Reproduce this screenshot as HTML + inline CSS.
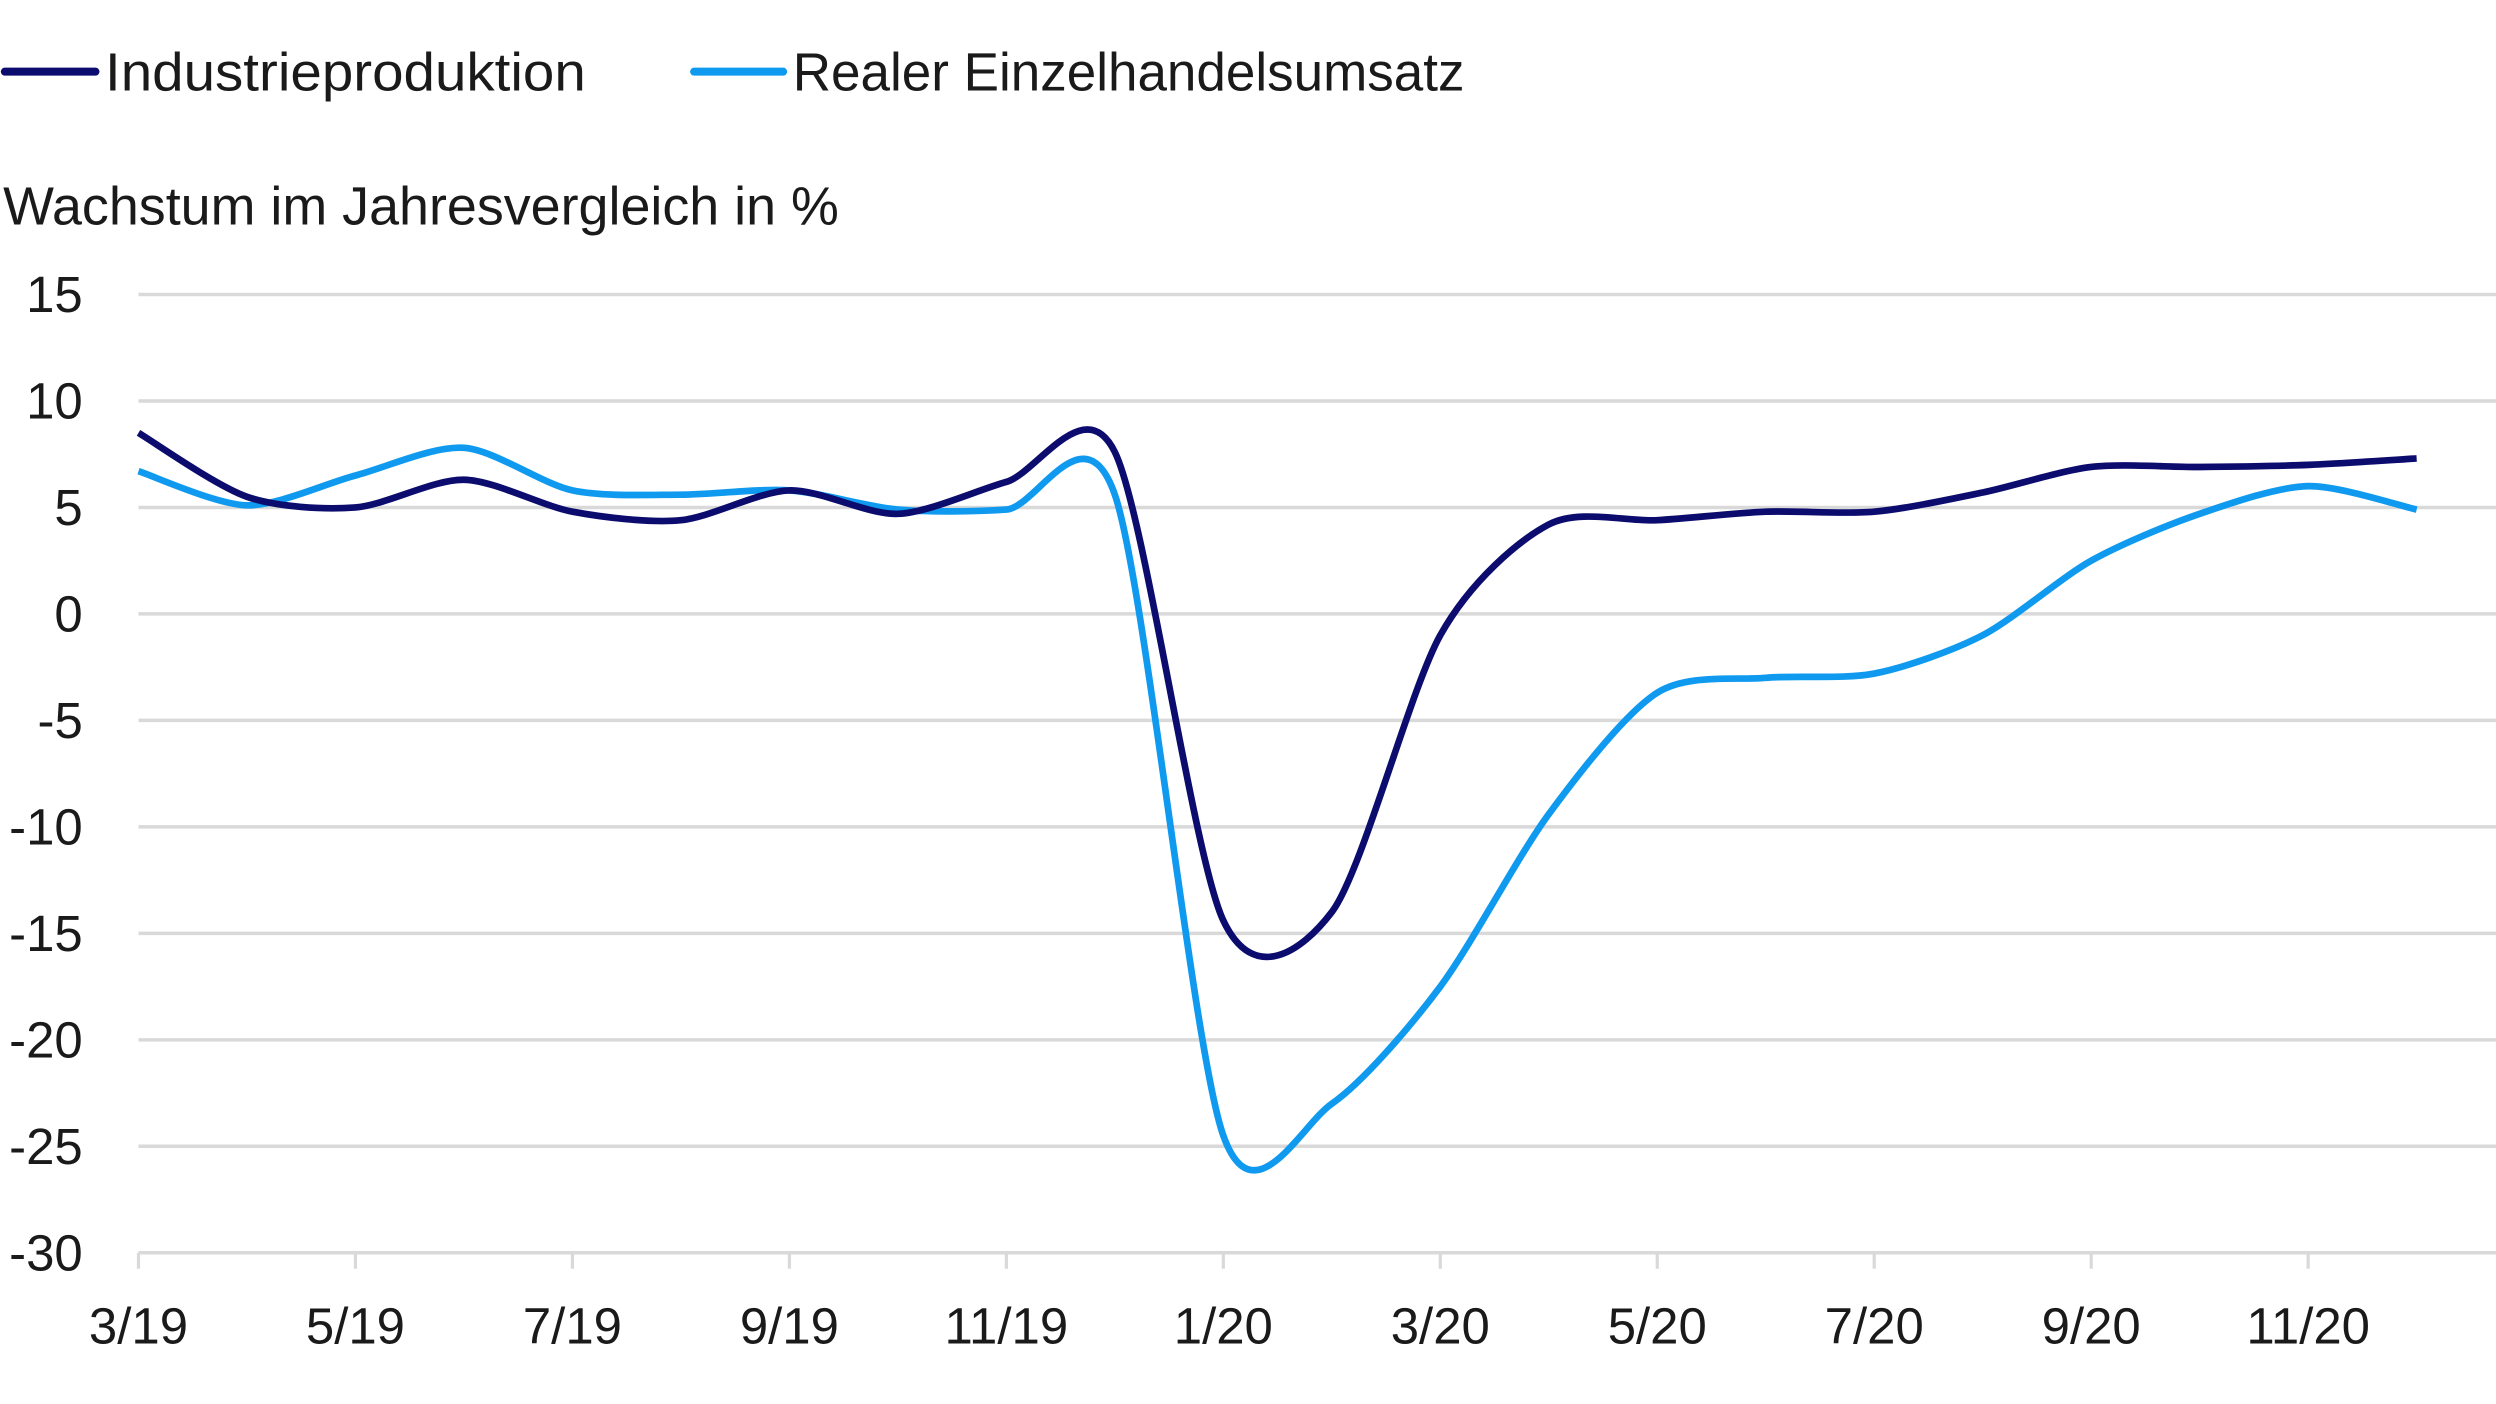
<!DOCTYPE html>
<html><head><meta charset="utf-8"><style>
html,body{margin:0;padding:0;background:#fff;}
svg{display:block;}
text{font-family:"Liberation Sans",sans-serif;fill:#1a1a1a;}
</style></head><body>
<svg id="chart" width="2496" height="1404" viewBox="0 0 1568 882" xmlns="http://www.w3.org/2000/svg">
  <g>
    <g>
      <line x1="3" y1="45" x2="60" y2="45" stroke="#0c0c6e" stroke-width="5" stroke-linecap="round"/>
      <text x="66" y="57" font-size="33.5" textLength="302" lengthAdjust="spacingAndGlyphs">Industrieproduktion</text>
    </g>
    <g>
      <line x1="436" y1="45" x2="492" y2="45" stroke="#0f9af0" stroke-width="5" stroke-linecap="round"/>
      <text x="498" y="57" font-size="33.5" textLength="422" lengthAdjust="spacingAndGlyphs">Realer Einzelhandelsumsatz</text>
    </g>
  </g>
  <text x="2" y="141" font-size="33.5" textLength="525" lengthAdjust="spacingAndGlyphs">Wachstum im Jahresvergleich in %</text>
  <g id="grid"></g>
  <g id="yticks"></g>
  <g id="xticks"></g>
  <g id="series"></g>
</svg>
<script>
const months = ["3/19","4/19","5/19","6/19","7/19","8/19","9/19","10/19","11/19","12/19","1/20","2/20","3/20","4/20","5/20","6/20","7/20","8/20","9/20","10/20","11/20","12/20"];
const industrie = [8.5,5.5,5.0,6.3,4.8,4.4,5.8,4.7,6.2,7.6,-14.4,-14.0,-1.0,4.2,4.4,4.8,4.8,5.7,6.9,6.9,7.0,7.3];
const einzelhandel = [6.7,5.1,6.5,7.8,5.8,5.6,5.8,4.9,4.9,5.6,-24.5,-23.0,-17.5,-9.4,-3.7,-3.0,-2.8,-1.0,2.5,4.7,6.0,4.9];
const yTicks = [15,10,5,0,-5,-10,-15,-20,-25,-30];
const xTickLabels = ["3/19","5/19","7/19","9/19","11/19","1/20","3/20","5/20","7/20","9/20","11/20"];

const NS="http://www.w3.org/2000/svg";
const x0=87, monthW=68.15, yTop=185, unitH=(787-185)/45;
function xScale(i){return x0+i*monthW;}
function yScale(v){return yTop+(15-v)*unitH;}
function mk(tag,attrs,parent){const e=document.createElementNS(NS,tag);for(const k in attrs)e.setAttribute(k,attrs[k]);parent.appendChild(e);return e;}

const grid=document.getElementById('grid'), yt=document.getElementById('yticks'), xt=document.getElementById('xticks'), ser=document.getElementById('series');
yTicks.forEach(v=>{
  const l=mk('line',{x1:87,x2:1568,y1:yScale(v),y2:yScale(v),stroke:'#d9d9d9','stroke-width':2.2},grid);
  
  
  const t=mk('text',{x:52,y:yScale(v)+11,'font-size':32,'text-anchor':'end'},yt);
  
  
  t.textContent=v;
});
xTickLabels.forEach(lab=>{
  const i=months.indexOf(lab);
  const tk=mk('line',{x1:xScale(i),x2:xScale(i),y1:787,y2:797,stroke:'#d9d9d9','stroke-width':2},grid);
  
  
  const t=mk('text',{x:xScale(i),y:844,'font-size':32,'text-anchor':'middle'},xt);
  
  
  t.textContent=lab;
});
function pathFor(vals){
  const p=vals.map((v,i)=>[xScale(i),yScale(v)]);
  let d=`M${p[0][0]},${p[0][1]}`;
  const t=0.14;
  for(let i=0;i<p.length-1;i++){
    const a=p[i-1]||p[i], b=p[i], c=p[i+1], e=p[i+2]||c;
    const c1=[b[0]+(c[0]-a[0])*t, b[1]+(c[1]-a[1])*t];
    const c2=[c[0]-(e[0]-b[0])*t, c[1]-(e[1]-b[1])*t];
    d+=` C${c1[0]},${c1[1]} ${c2[0]},${c2[1]} ${c[0]},${c[1]}`;
  }
  return d;
}
const l1=mk('path',{d:pathFor(einzelhandel),fill:'none',stroke:'#0f9af0','stroke-width':4.2,'stroke-linejoin':'round'},ser);


const l2=mk('path',{d:pathFor(industrie),fill:'none',stroke:'#0c0c6e','stroke-width':4.2,'stroke-linejoin':'round'},ser);


</script>
</body></html>
